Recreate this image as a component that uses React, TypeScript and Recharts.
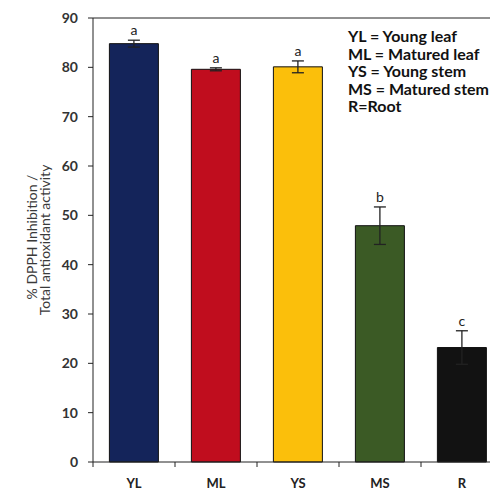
import { Bar, BarChart, Cell, ErrorBar, LabelList, ReferenceLine, XAxis, YAxis } from 'recharts';

const parts = ['YL', 'ML', 'YS', 'MS', 'R'];
const inhibition = [84.8, 79.6, 80.1, 47.9, 23.2];
const stdError = [0.7, 0.3, 1.2, 3.8, 3.4];
const groups = ['a', 'a', 'a', 'b', 'c'];
const barColors = ['#14245a', '#c00d1e', '#fbbf0b', '#3b5a25', '#121212'];
const yTicks = [0, 10, 20, 30, 40, 50, 60, 70, 80, 90];
const legendLines = ['YL = Young leaf', 'ML = Matured leaf', 'YS = Young stem', 'MS = Matured stem', 'R=Root'];

const data = parts.map((name, i) => ({
	name,
	value: inhibition[i],
	err: stdError[i],
	group: groups[i],
}));

const FONT = 'Lato, "Open Sans", sans-serif';

// letter sits just above the top of the error bar
const GroupLabel = (props: any) => {
	const { x, y, width, height, index } = props;
	const row = data[index];
	const perUnit = height / row.value;
	const top = y - row.err * perUnit;
	return (
		<text
			x={x + width / 2}
			y={top - 5}
			textAnchor="middle"
			fontFamily={FONT}
			fontSize={14}
			fill="#222"
		>
			{row.group}
		</text>
	);
};

// category tick: label at centre, tick mark at the band edge
const CategoryTick = (props: any) => {
	const { x, y, payload, index } = props;
	const half = payload.offset ?? 0;
	return (
		<g>
			{index === 0 && <line x1={x - half} x2={x - half} y1={y} y2={y + 5} stroke="#222" />}
			<line x1={x + half} x2={x + half} y1={y} y2={y + 5} stroke="#222" />
			<text
				x={x}
				y={y + 26}
				textAnchor="middle"
				fontFamily={FONT}
				fontSize={13}
				fontWeight={700}
				fill="#222"
			>
				{payload.value}
			</text>
		</g>
	);
};

const AxisTitle = () => (
	<g fontFamily={FONT} fontSize={14} fill="#3a3a3a">
		<text x={32} y={237} textAnchor="middle" transform="rotate(-90 32 237)" dy="0.35em">
			% DPPH Inhibition /
		</text>
		<text x={45} y={240} textAnchor="middle" transform="rotate(-90 45 240)" dy="0.35em">
			Total antioxidant activity
		</text>
	</g>
);

export default function App() {
	return (
		<div
			style={{
				position: 'relative',
				width: 498,
				height: 490,
				margin: '-8px -8px 0',
				overflow: 'hidden',
				background: '#fff',
			}}
		>
			<BarChart
				width={512}
				height={490}
				data={data}
				margin={{ top: 18, right: 9, bottom: 0, left: 0 }}
				barCategoryGap="20%"
			>
				<XAxis
					dataKey="name"
					stroke="#222"
					tickLine={false}
					tickSize={0}
					tickMargin={0}
					height={28}
					tick={<CategoryTick />}
				/>
				<YAxis
					domain={[0, 90]}
					ticks={yTicks}
					width={93}
					stroke="#222"
					tickSize={5}
					tickMargin={10}
					tick={{ fontFamily: FONT, fontSize: 14, fontWeight: 700, fill: '#333' }}
					label={{ content: () => <AxisTitle /> }}
				/>
				<ReferenceLine y={90} stroke="#222" />
				<Bar dataKey="value" stroke="#111" strokeWidth={1} isAnimationActive={false}>
					{data.map((d, i) => (
						<Cell key={d.name} fill={barColors[i]} />
					))}
					<ErrorBar dataKey="err" width={6} stroke="#222" strokeWidth={1.3} direction="y" />
					<LabelList dataKey="group" content={<GroupLabel />} />
				</Bar>
			</BarChart>
			<div
				style={{
					position: 'absolute',
					left: 348,
					top: 27,
					fontFamily: FONT,
					fontSize: 16,
					fontWeight: 700,
					lineHeight: '17.6px',
					color: '#111',
				}}
			>
				{legendLines.map(line => (
					<div key={line}>{line}</div>
				))}
			</div>
		</div>
	);
}
